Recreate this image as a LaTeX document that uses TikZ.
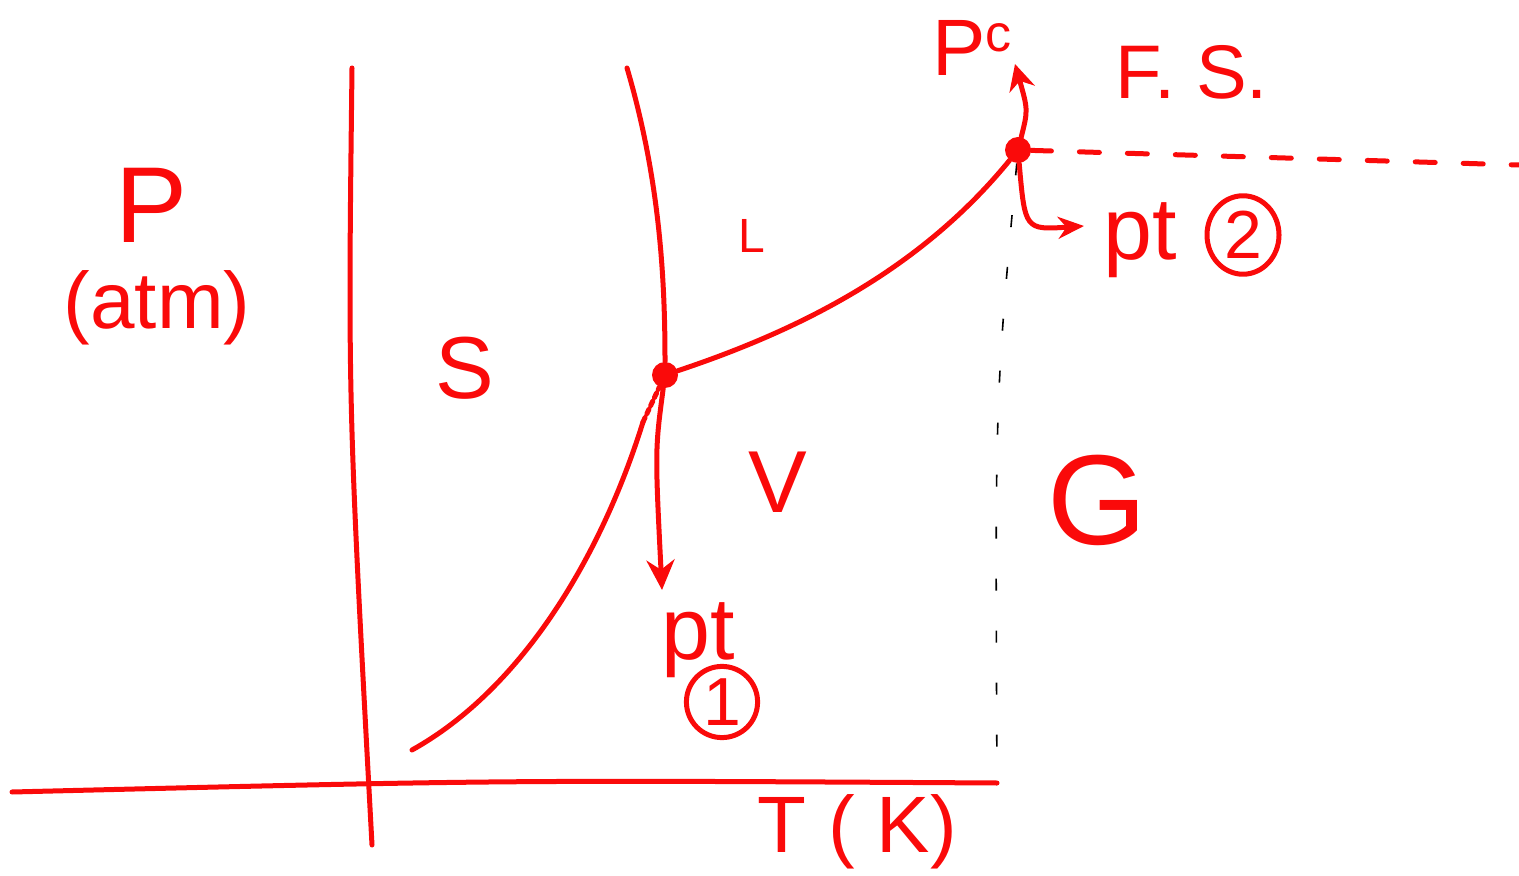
\documentclass[tikz,border=0pt]{standalone}
\usepackage{fontspec}
\setmainfont{Liberation Sans}
\usetikzlibrary{arrows.meta,shapes.geometric}
\definecolor{inkred}{RGB}{250,10,10}
\tikzset{
  ink/.style={draw=inkred, line width=2.5pt, line cap=round, line join=round},
  hand/.style={text=inkred, inner sep=0pt, font=\fontsize{#1}{#1}\selectfont},
  hand/.default=42,
  dotpt/.style={circle, fill=inkred, inner sep=0pt, minimum size=13pt},
  ringed/.style={circle, draw=inkred, line width=2.5pt, text=inkred, inner sep=2pt, font=\fontsize{34}{34}\selectfont}
}
\begin{document}
\begin{tikzpicture}[x=0.5pt,y=-0.5pt]
\useasboundingbox (0,0) rectangle (1519,876);

% axes
\coordinate (ytop) at (352,68);
\coordinate (ybot) at (372,845);
\coordinate (xl) at (12,792);
\coordinate (xr) at (997,783);
\draw[ink] (ytop) .. controls (348,400) .. (ybot);
\draw[ink] (xl) .. controls (500,780) .. (xr);

% special points
\node[dotpt] (tp) at (665,375) {};
\node[dotpt] (cp) at (1018,150) {};

% phase boundaries
\coordinate (fus) at (627,68);
\coordinate (sub) at (412,750);
\coordinate (subend) at (643,422);
\draw[ink] (fus) .. controls (660,180) and (665,280) .. (tp);
\draw[ink] (sub) .. controls (520,690) and (600,560) .. (subend);
\draw[ink, dotted] (subend) -- (tp);
\draw[ink] (tp) .. controls (800,330) and (920,270) .. (cp);

% guide lines
\coordinate (fsend) at (1519,165);
\draw[ink, dash pattern=on 10pt off 14pt] (cp) -- (fsend);
\draw[black, line width=0.8pt, dash pattern=on 6pt off 20pt] (cp) .. controls (995,400) .. (xr);

% pointers
\coordinate (pt1tip) at (662,590);
\coordinate (pctip) at (1015,64);
\coordinate (pt2tip) at (1084,226);
\draw[ink, -{Stealth[length=15pt,width=14pt]}] (tp) .. controls (655,450) .. (pt1tip);
\draw[ink, -{Stealth[length=13pt,width=13pt]}] (cp) .. controls (1028,110) .. (pctip);
\draw[ink, -{Stealth[length=13pt,width=11pt]}] (cp) .. controls (1025,230) .. (pt2tip);

% labels
\node[hand=54] (plab) at (152,205) {P};
\node[hand=40] (unit) at (157,308) {(atm)};
\node[hand=44] (solid) at (465,368) {S};
\node[hand=24] (liq) at (752,236) {L};
\node[hand=44] (vap) at (778,482) {V};
\node[hand=64] (gas) at (1097,500) {G};
\node[hand=40] (tlab) at (857,832) {T ( K)};
\node[hand=38] (fs) at (1192,72) {F. S.};
\node[hand=40] (pc) at (972,48) {P\raisebox{12pt}{\fontsize{26}{26}\selectfont c}};
\node[hand=44] (pt1) at (698,640) {pt};
\node[ringed, minimum size=30pt] (one) at (722,702) {1};
\node[hand=44] (pt2) at (1140,240) {pt};
\node[ringed, ellipse, minimum width=36pt, minimum height=28pt] (two) at (1243,235) {2};
\end{tikzpicture}
\end{document}
